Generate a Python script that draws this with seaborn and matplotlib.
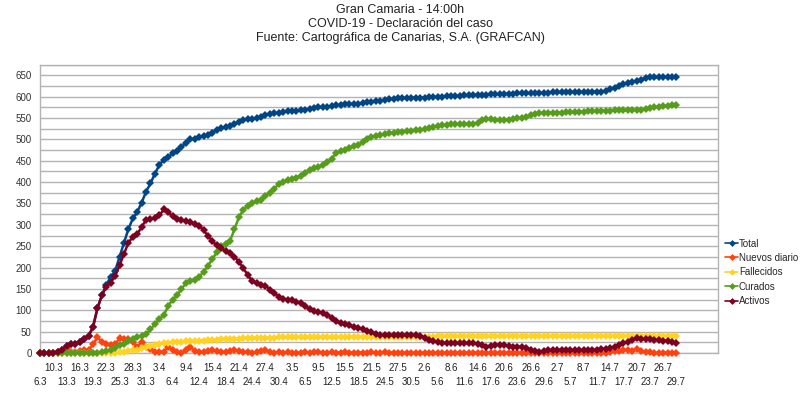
import matplotlib
matplotlib.use("Agg")
import matplotlib.pyplot as plt
import seaborn as sns
import numpy as np
import pandas as pd

# ---- data ----
dates = pd.date_range("2020-03-10", "2020-07-29", freq="D")
categories = ["6.3", "8.3", "9.3"] + [f"{d.day}.{d.month}" for d in dates]

total = [0, 0, 0, 1, 3, 8, 17, 20, 22, 26,
         33, 40, 60, 105, 135, 160, 178, 192, 225, 258,
         290, 315, 330, 352, 378, 397, 420, 440, 452, 458,
         468, 474, 482, 492, 500, 501, 505, 507, 511, 516,
         523, 526, 529, 532, 537, 541, 545, 547, 548, 549,
         552, 558, 560, 561, 563, 564, 566, 567, 567, 568,
         570, 571, 573, 575, 576, 577, 578, 580, 581, 582,
         583, 584, 584, 585, 587, 588, 589, 591, 592, 594,
         595, 596, 597, 597, 597, 598, 598, 598, 599, 599,
         600, 600, 601, 601, 602, 602, 603, 603, 604, 605,
         605, 605, 606, 606, 606, 607, 607, 607, 608, 608,
         608, 608, 608, 609, 609, 609, 610, 610, 610, 610,
         611, 611, 611, 611, 612, 612, 612, 612, 613, 617,
         621, 625, 629, 631, 634, 637, 640, 644, 645, 646,
         646, 646, 647, 647, 647]

nuevos = [0, 0, 0, 1, 2, 5, 9, 3, 2, 4,
          7, 7, 20, 38, 25, 20, 18, 21, 34, 33,
          32, 25, 15, 26, 15, 10, 3, 3, 3, 15,
          7, 3, 0, 6, 15, 4, 2, 3, 4, 6,
          5, 3, 3, 4, 6, 4, 3, 2, 1, 2,
          4, 8, 2, 1, 2, 1, 2, 1, 0, 1,
          2, 1, 2, 3, 1, 1, 2, 1, 1, 2,
          1, 1, 1, 1, 1, 2, 1, 1, 2, 1,
          1, 1, 1, 0, 0, 1, 0, 0, 1, 0,
          1, 0, 1, 0, 1, 0, 1, 0, 1, 1,
          0, 0, 1, 0, 0, 1, 0, 0, 1, 0,
          0, 0, 0, 1, 0, 0, 1, 0, 0, 0,
          1, 0, 0, 0, 1, 0, 0, 0, 1, 3,
          5, 4, 6, 8, 5, 10, 4, 3, 2, 1,
          0, 0, 1, 0, 0]

fallecidos = [0, 0, 0, 0, 0, 0, 0, 0, 0, 0,
              0, 0, 0, 0, 0, 0, 0, 1, 2, 3,
              4, 6, 8, 11, 14, 16, 19, 22, 23, 24,
              25, 26, 26, 27, 27, 28, 28, 29, 30, 31,
              31, 32, 32, 33, 33, 33, 34, 34, 35, 35,
              35, 36, 36, 36, 37, 37, 37, 38, 38, 38,
              38, 38, 38, 38, 38, 38, 38, 38, 38, 38,
              38, 38, 38, 38, 38, 38, 38, 38, 38, 38,
              38, 38, 38, 38, 38, 38, 38, 38, 38, 38,
              39, 39, 39, 39, 39, 39, 39, 39, 39, 39,
              39, 39, 39, 39, 39, 39, 39, 39, 39, 39,
              39, 39, 39, 39, 39, 39, 39, 39, 39, 39,
              39, 40, 40, 40, 40, 40, 40, 40, 40, 40,
              40, 40, 40, 40, 40, 40, 40, 40, 40, 40,
              40, 40, 40, 40, 40]

curados = [0, 0, 0, 0, 0, 0, 0, 0, 0, 0,
           0, 0, 0, 0, 2, 5, 7, 12, 18, 22,
           28, 32, 37, 40, 45, 55, 68, 80, 88, 110,
           125, 135, 150, 163, 168, 172, 178, 190, 204, 220,
           236, 250, 255, 262, 290, 318, 335, 345, 350, 355,
           358, 368, 375, 385, 395, 400, 404, 407, 410, 415,
           422, 428, 432, 436, 440, 447, 455, 468, 472, 476,
           480, 484, 487, 494, 501, 505, 508, 510, 512, 514,
           516, 517, 518, 519, 520, 521, 522, 524, 527, 530,
           532, 533, 534, 535, 536, 536, 536, 537, 537, 538,
           545, 548, 547, 546, 545, 545, 546, 548, 550, 551,
           553, 557, 560, 562, 562, 562, 563, 563, 563, 564,
           564, 564, 565, 565, 566, 566, 566, 567, 567, 567,
           568, 568, 568, 568, 569, 569, 570, 572, 574, 576,
           577, 578, 579, 580, 581]

activos = [0, 0, 0, 1, 3, 8, 17, 20, 22, 26,
           33, 40, 62, 105, 135, 155, 165, 180, 205, 232,
           258, 272, 278, 295, 312, 313, 316, 322, 336, 330,
           320, 314, 311, 308, 306, 302, 298, 288, 274, 262,
           252, 246, 238, 234, 225, 214, 198, 183, 168, 163,
           160, 158, 148, 140, 132, 127, 125, 124, 120, 117,
           110, 102, 98, 96, 94, 90, 82, 74, 70, 67,
           65, 62, 59, 56, 52, 48, 44, 42, 42, 42,
           42, 42, 42, 42, 42, 42, 40, 36, 31, 28,
           25, 24, 23, 23, 23, 23, 23, 23, 23, 21,
           18, 15, 17, 19, 19, 18, 16, 15, 15, 14,
           12, 8, 5, 3, 4, 6, 7, 7, 7, 6,
           6, 6, 6, 7, 7, 7, 8, 9, 10, 12,
           15, 19, 23, 26, 30, 34, 33, 32, 32, 31,
           30, 29, 28, 26, 24]

series_names = ["Total", "Nuevos diario", "Fallecidos", "Curados", "Activos"]
series_colors = ["#004586", "#ff420e", "#ffd320", "#579d1c", "#7e0021"]
y_ticks = list(range(0, 651, 50))
title_lines = ["Gran Camaria - 14:00h",
               "COVID-19 - Declaración del caso",
               "Fuente: Cartográfica de Canarias, S.A. (GRAFCAN)"]

# ---- plot ----
sns.set_style("white")
plt.rcParams["font.family"] = ["Liberation Sans", "DejaVu Sans"]

fig = plt.figure(figsize=(8.0, 3.98), dpi=100)
ax = fig.add_axes([0.05, 0.1131, 0.8475, 0.7244])

idx = np.arange(len(categories))
all_vals = [total, nuevos, fallecidos, curados, activos]
for name, col, vals in zip(series_names, series_colors, all_vals):
    sns.lineplot(x=idx, y=vals, ax=ax, color=col, label=name,
                 marker="D", markersize=4.4, markeredgewidth=0,
                 linewidth=1.8, clip_on=False, zorder=3)

ax.set_xlim(0, 153.4)
ax.set_ylim(0, 675)
ax.set_yticks(y_ticks)
ax.set_yticks(list(range(25, 676, 50)), minor=True)
ax.yaxis.grid(True, which="both", color="#b3b3b3", linewidth=1)
ax.tick_params(axis="y", which="both", length=0, pad=6, labelsize=7, colors="#333333")
ax.set_yticklabels([str(v) for v in y_ticks])

# top row of date labels (odd positions) on the main axis
top_pos = idx[3::6]
ax.set_xticks(top_pos)
ax.set_xticklabels([categories[p] for p in top_pos], fontsize=7, color="#222222")
ax.set_xticks(np.arange(0, 154), minor=True)
ax.tick_params(axis="x", which="both", length=3, color="#b3b3b3", pad=4)
ax.set_xlabel("")
ax.set_ylabel("")

# bottom row of date labels on a secondary axis
sec = ax.secondary_xaxis("bottom")
bot_pos = idx[0::6]
sec.set_xticks(bot_pos)
sec.set_xticklabels([categories[p] for p in bot_pos], fontsize=7, color="#222222")
sec.tick_params(axis="x", length=0, pad=17)
sec.spines["bottom"].set_visible(False)

for s in ["left", "right", "bottom", "top"]:
    ax.spines[s].set_visible(True)
    ax.spines[s].set_color("#b3b3b3")
    ax.spines[s].set_linewidth(1)

leg = ax.legend(loc="center left", bbox_to_anchor=(1.005, 0.28), frameon=False,
                fontsize=7, handlelength=1.3, handletextpad=0.1,
                labelspacing=0.45, borderaxespad=0)
for h in leg.legend_handles:
    h.set_markersize(3.5)
    h.set_linewidth(1.2)

fig.text(0.5, 1 - 4 / 398, "\n".join(title_lines), ha="center", va="top",
         fontsize=9, linespacing=1.2, color="#222222")

fig.savefig("out.png", dpi=100)
